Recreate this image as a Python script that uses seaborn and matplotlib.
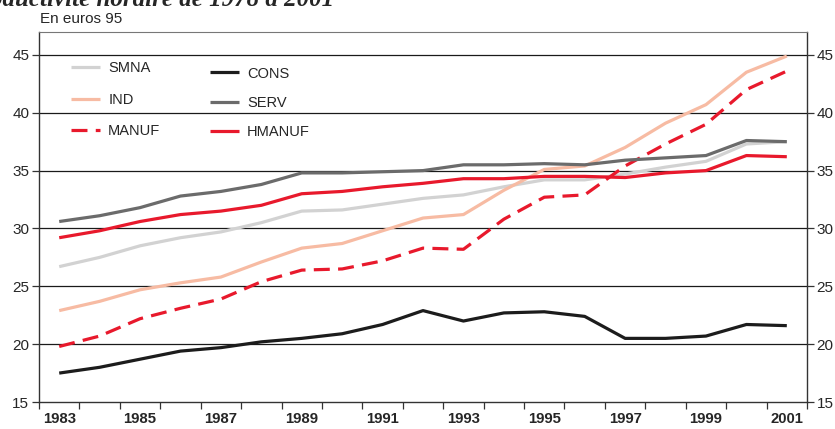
import pandas as pd
import numpy as np
import matplotlib
matplotlib.use('Agg')
import matplotlib.pyplot as plt
import seaborn as sns

# Données (euros 95)
annees = list(range(1983, 2002))
smna = [26.7, 27.5, 28.5, 29.2, 29.7, 30.5, 31.5, 31.6, 32.1, 32.6, 32.9, 33.6, 34.2, 34.2, 34.7, 35.3, 35.8, 37.3, 37.5]
ind = [22.9, 23.7, 24.7, 25.3, 25.8, 27.1, 28.3, 28.7, 29.8, 30.9, 31.2, 33.3, 35.1, 35.4, 37.0, 39.1, 40.7, 43.5, 44.9]
manuf = [19.8, 20.7, 22.2, 23.1, 23.9, 25.4, 26.4, 26.5, 27.2, 28.3, 28.2, 30.8, 32.7, 32.9, 35.4, 37.3, 39.0, 42.0, 43.6]
cons = [17.5, 18.0, 18.7, 19.4, 19.7, 20.2, 20.5, 20.9, 21.7, 22.9, 22.0, 22.7, 22.8, 22.4, 20.5, 20.5, 20.7, 21.7, 21.6]
serv = [30.6, 31.1, 31.8, 32.8, 33.2, 33.8, 34.8, 34.8, 34.9, 35.0, 35.5, 35.5, 35.6, 35.5, 35.9, 36.1, 36.3, 37.6, 37.5]
hmanuf = [29.2, 29.8, 30.6, 31.2, 31.5, 32.0, 33.0, 33.2, 33.6, 33.9, 34.3, 34.3, 34.5, 34.5, 34.4, 34.8, 35.0, 36.3, 36.2]

df = pd.DataFrame({'Année': annees, 'SMNA': smna, 'IND': ind, 'MANUF': manuf,
                   'CONS': cons, 'SERV': serv, 'HMANUF': hmanuf})

sns.set_style('white')
plt.rcParams['font.family'] = ['Liberation Sans', 'DejaVu Sans']

fig = plt.figure(figsize=(8.35, 4.29), dpi=100)
ax = fig.add_axes([0.0467, 0.0629, 0.9198, 0.8631])

styles = {
    'SMNA': dict(color='#d2d2d2'),
    'IND': dict(color='#f7bba3'),
    'MANUF': dict(color='#e8192c', dashes=(5, 2.6)),
    'CONS': dict(color='#1c1c1c'),
    'SERV': dict(color='#6b6b6b'),
    'HMANUF': dict(color='#e8192c'),
}
# ordre du dessin (le premier en dessous)
ordre = ['SMNA', 'IND', 'MANUF', 'CONS', 'SERV', 'HMANUF']

lignes = {}
for nom in ordre:
    st = styles[nom]
    sns.lineplot(data=df, x='Année', y=nom, ax=ax, color=st['color'], lw=2.3, label=nom)
    line = ax.lines[-1]
    if 'dashes' in st:
        line.set_dashes(st['dashes'])
    line.set_solid_capstyle('butt')
    lignes[nom] = line
ax.get_legend().remove()

# grille horizontale
for v in [20, 25, 30, 35, 40, 45]:
    ax.axhline(v, color='#1a1a1a', lw=0.9, zorder=0)

ax.set_ylim(15, 47)
ax.set_xlim(1982.5, 2001.5)
ax.set_xlabel('')
ax.set_ylabel('')

ax.set_yticks([15, 20, 25, 30, 35, 40, 45])
ax.tick_params(axis='y', which='major', left=True, right=True, labelleft=True, labelright=True,
               direction='out', length=5, width=0.9, color='#333333', labelsize=11, pad=2)

ax.set_xticks([a for a in annees if a % 2 == 1])
ax.set_xticklabels([str(a) for a in annees if a % 2 == 1], fontweight='bold', fontsize=10.7)
ax.set_xticks(np.arange(1982.5, 2002, 1), minor=True)
ax.tick_params(axis='x', which='major', length=0, pad=7)
ax.tick_params(axis='x', which='minor', bottom=True, direction='out', length=5, width=0.9, color='#333333')

for s in ['left', 'right', 'bottom']:
    ax.spines[s].set_color('#333333')
    ax.spines[s].set_linewidth(1.0)
    ax.spines[s].set_visible(True)
ax.spines['top'].set_color('#777777')
ax.spines['top'].set_linewidth(0.8)
ax.spines['top'].set_visible(True)

# légende en deux colonnes décalées
def legende(noms, x, y, espace):
    leg = ax.legend([lignes[n] for n in noms], noms, loc='upper left', bbox_to_anchor=(x, y),
                    frameon=False, fontsize=10.5, handlelength=2.0, handletextpad=0.55,
                    labelspacing=espace, borderpad=0, borderaxespad=0)
    for h in leg.get_lines():
        h.set_linewidth(2.3)
    return leg

leg1 = legende(['SMNA', 'IND', 'MANUF'], 0.0417, 0.92, 1.2)
ax.add_artist(leg1)
legende(['CONS', 'SERV', 'HMANUF'], 0.2227, 0.906, 1.05)

fig.text(0.048, 0.956, 'En euros 95', fontsize=11, va='center', ha='left')
fig.text(0.40, 0.986, 'Productivité horaire de 1978 à 2001', fontsize=18, fontweight='bold',
         fontstyle='italic', family='Liberation Serif', ha='right', va='baseline')

fig.savefig('out.png', dpi=100)
